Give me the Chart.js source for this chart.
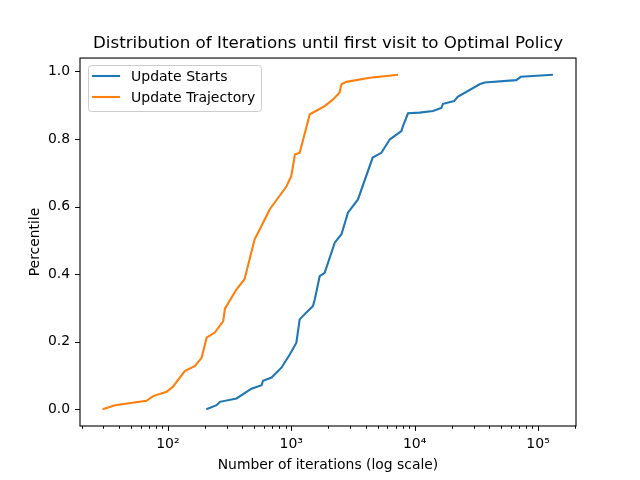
<!DOCTYPE html>
<html>
<head>
<meta charset="utf-8">
<script src="https://cdn.jsdelivr.net/npm/chart.js@4.4.0/dist/chart.umd.min.js"></script>
<style>
  html, body { margin: 0; padding: 0; background: #fff; }
  #wrap { width: 640px; height: 480px; }
</style>
</head>
<body>
<div id="wrap"><canvas id="chart" width="640" height="480"></canvas></div>
<script>
// Update Starts (blue)
const startsIters = [205, 248, 264, 360, 476, 574, 590, 692, 832, 975, 1100, 1170, 1320, 1500, 1550, 1700, 1865, 2250, 2550, 2880, 3470, 4570, 5370, 6310, 7800, 8040, 8830, 10960, 14070, 16440, 16970, 20900, 22300, 33600, 36900, 66500, 72500, 132000];
const startsPct = [0.0, 0.012, 0.022, 0.032, 0.061, 0.071, 0.084, 0.094, 0.123, 0.163, 0.197, 0.266, 0.286, 0.306, 0.325, 0.394, 0.404, 0.493, 0.518, 0.582, 0.621, 0.745, 0.759, 0.799, 0.823, 0.838, 0.876, 0.878, 0.883, 0.892, 0.904, 0.912, 0.925, 0.962, 0.967, 0.974, 0.984, 0.99];

// Update Trajectory (orange)
const trajIters = [29.6, 37.3, 67, 76, 97.6, 110, 137, 166, 188, 206, 240, 281, 290, 360, 418, 505, 591, 670, 915, 1000, 1070, 1170, 1250, 1413, 1865, 2180, 2460, 2550, 2800, 4330, 7330];
const trajPct = [0.0, 0.012, 0.025, 0.039, 0.052, 0.067, 0.113, 0.128, 0.153, 0.212, 0.227, 0.261, 0.298, 0.355, 0.385, 0.503, 0.552, 0.592, 0.66, 0.69, 0.754, 0.759, 0.799, 0.873, 0.897, 0.917, 0.937, 0.962, 0.969, 0.981, 0.99];

const seriesNames = ['Update Starts', 'Update Trajectory'];
const seriesColors = ['#1f77b4', '#ff7f0e'];
const yTicks = [0.0, 0.2, 0.4, 0.6, 0.8, 1.0];
const xMajor = [100, 1000, 10000, 100000];
const xLabels = ['10²', '10³', '10⁴', '10⁵'];

const FONT = 'DejaVu Sans';
const xMin = 19.4, xMax = 203000;

function toPoints(xs, ys) {
  return xs.map((x, i) => ({ x: x, y: ys[i] }));
}

// every k*10^n inside the x range
function logTicks() {
  const out = [];
  for (let e = 1; e <= 5; e++) {
    for (let k = 1; k <= 9; k++) {
      const v = k * Math.pow(10, e);
      if (v >= xMin && v <= xMax) out.push(v);
    }
  }
  return out;
}

// frame, tick marks and legend drawn like matplotlib
const mplBits = {
  id: 'mplBits',
  afterDraw(chart) {
    const ctx = chart.ctx;
    const a = chart.chartArea;
    const xs = chart.scales.x, ys = chart.scales.y;
    ctx.save();
    ctx.strokeStyle = '#000';
    ctx.lineWidth = 1.1;
    ctx.strokeRect(a.left, a.top, a.right - a.left, a.bottom - a.top);

    ctx.beginPath();
    logTicks().forEach(v => {
      const px = Math.round(xs.getPixelForValue(v)) + 0.5;
      const len = xMajor.includes(v) ? 4.9 : 2.8;
      ctx.moveTo(px, a.bottom);
      ctx.lineTo(px, a.bottom + len);
    });
    yTicks.forEach(v => {
      const py = Math.round(ys.getPixelForValue(v)) + 0.5;
      ctx.moveTo(a.left, py);
      ctx.lineTo(a.left - 4.9, py);
    });
    ctx.lineWidth = 1;
    ctx.stroke();

    // legend
    const bx = 88.5, by = 65.5, bw = 173, bh = 46;
    ctx.beginPath();
    ctx.roundRect(bx, by, bw, bh, 3);
    ctx.fillStyle = 'rgba(255,255,255,0.8)';
    ctx.fill();
    ctx.strokeStyle = '#cccccc';
    ctx.lineWidth = 1;
    ctx.stroke();
    ctx.font = '14px "' + FONT + '"';
    ctx.textBaseline = 'middle';
    ctx.textAlign = 'left';
    seriesNames.forEach((name, i) => {
      const ly = 76 + i * 21;
      ctx.beginPath();
      ctx.moveTo(92, ly);
      ctx.lineTo(120, ly);
      ctx.strokeStyle = seriesColors[i];
      ctx.lineWidth = 2.1;
      ctx.stroke();
      ctx.fillStyle = '#000';
      ctx.fillText(name, 131, ly + 1);
    });
    ctx.restore();
  }
};

new Chart(document.getElementById('chart'), {
  type: 'line',
  data: {
    datasets: [
      {
        label: seriesNames[0],
        data: toPoints(startsIters, startsPct),
        borderColor: seriesColors[0],
        backgroundColor: seriesColors[0],
        borderWidth: 2.1,
        pointRadius: 0,
        tension: 0
      },
      {
        label: seriesNames[1],
        data: toPoints(trajIters, trajPct),
        borderColor: seriesColors[1],
        backgroundColor: seriesColors[1],
        borderWidth: 2.1,
        pointRadius: 0,
        tension: 0
      }
    ]
  },
  options: {
    responsive: false,
    animation: false,
    devicePixelRatio: 1,
    layout: { padding: { top: 0, right: 64, bottom: 0, left: 0 } },
    plugins: {
      legend: { display: false },
      tooltip: { enabled: false },
      title: {
        display: true,
        fullSize: false,
        text: 'Distribution of Iterations until first visit to Optimal Policy',
        color: '#000',
        font: { family: FONT, size: 16.7, weight: 'normal' },
        padding: { top: 34, bottom: 4 }
      }
    },
    scales: {
      x: {
        type: 'logarithmic',
        min: xMin,
        max: xMax,
        grid: { display: false, drawTicks: false },
        border: { display: false },
        afterBuildTicks: (scale) => {
          scale.ticks = logTicks().map(v => ({ value: v }));
        },
        afterFit: (scale) => { scale.height = 54; },
        ticks: {
          autoSkip: false,
          maxRotation: 0,
          padding: 10,
          color: '#000',
          font: { family: FONT, size: 14 },
          callback: (v) => {
            const i = xMajor.indexOf(v);
            return i >= 0 ? xLabels[i] : '';
          }
        },
        title: {
          display: true,
          text: 'Number of iterations (log scale)',
          color: '#000',
          font: { family: FONT, size: 13.9 },
          padding: { top: 0, bottom: 6 }
        }
      },
      y: {
        min: -0.0495,
        max: 1.0395,
        grid: { display: false, drawTicks: false },
        border: { display: false },
        afterBuildTicks: (scale) => {
          scale.ticks = yTicks.map(v => ({ value: v }));
        },
        afterFit: (scale) => { scale.width = 80; },
        ticks: {
          padding: 10,
          color: '#000',
          font: { family: FONT, size: 13.9 },
          callback: (v) => v.toFixed(1)
        },
        title: {
          display: true,
          text: 'Percentile',
          color: '#000',
          font: { family: FONT, size: 13.9 },
          padding: { top: 27, bottom: 0 }
        }
      }
    }
  },
  plugins: [mplBits]
});
</script>
</body>
</html>
